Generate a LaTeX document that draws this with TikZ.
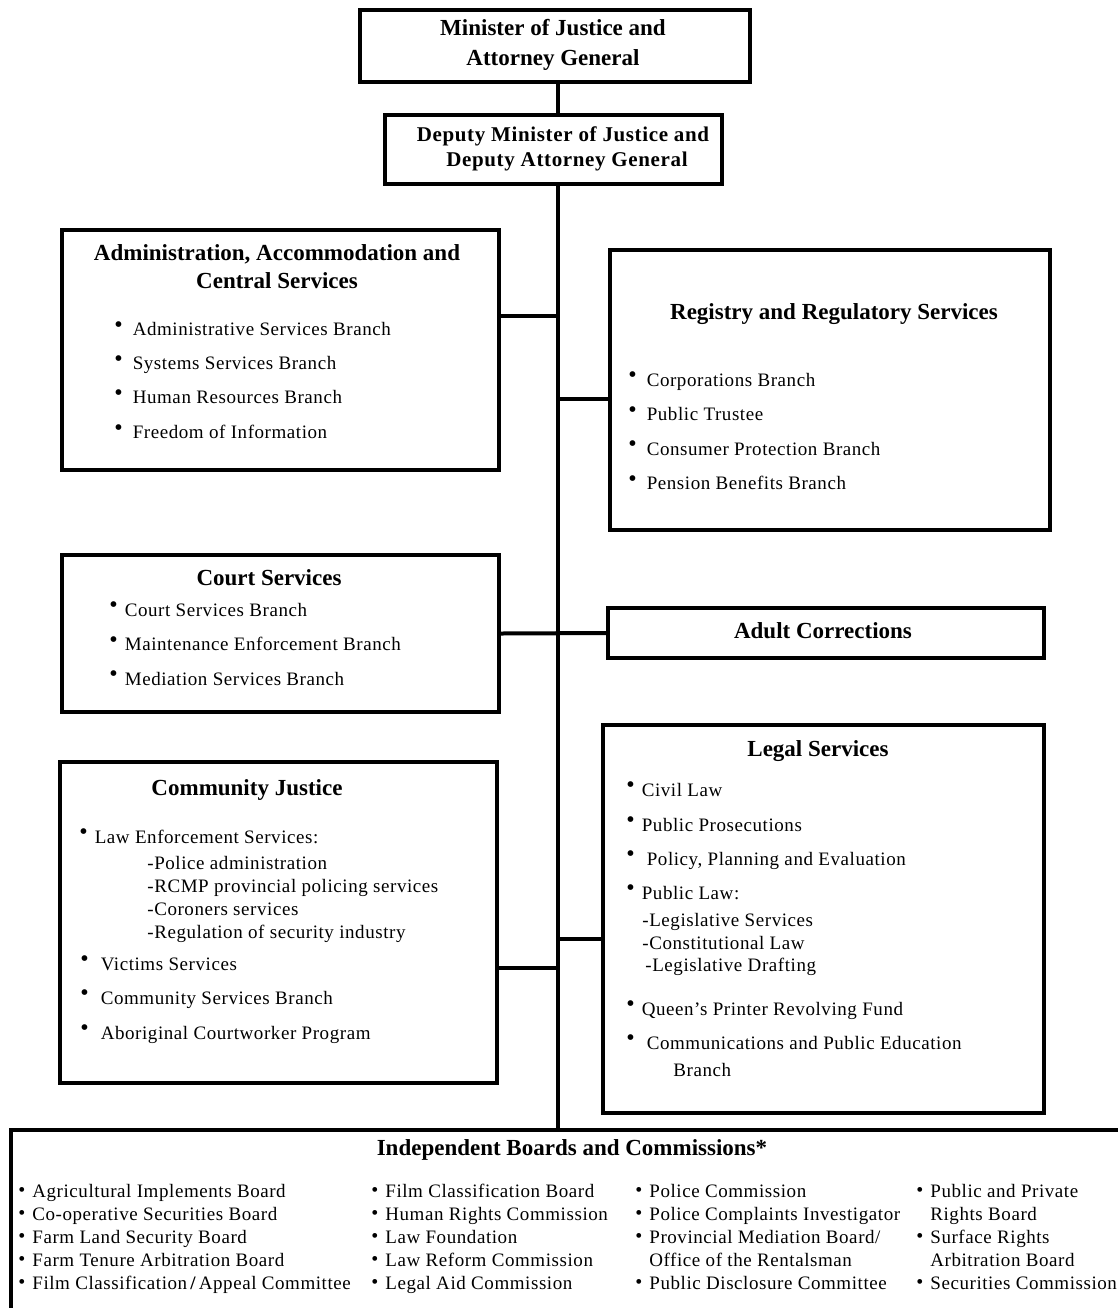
\documentclass[tikz,border=0pt]{standalone}
\usepackage{fontspec}
\setmainfont{Liberation Serif}
\newfontfamily\bodyfont[LetterSpace=3]{Liberation Serif}
\usetikzlibrary{positioning,calc}

% bullets for the lists
\newcommand{\bul}[1][5pt]{\raisebox{.35ex}{\large\textbullet}\hspace{#1}}
\newcommand{\sbul}{\raisebox{.05ex}{\normalsize\textbullet}\hspace{3.5pt}}
\newcommand{\nob}{\phantom{\sbul}}

\begin{document}
\begin{tikzpicture}[x=0.5pt, y=-0.5pt,
    unit/.style={draw, line width=2pt, anchor=north west, inner sep=0pt},
    head/.style={font=\fontsize{11.5}{14}\selectfont\bfseries, align=center, inner sep=0pt},
    item/.style={font=\bodyfont\fontsize{9.5}{11}\selectfont, anchor=base west, inner sep=0pt},
    link/.style={line width=2pt},
]
\useasboundingbox (0,0) rectangle (1118,1308);

% Boxes
\node[unit, minimum width=195pt, minimum height=36pt] (min) at (358,8) {};
\node[unit, minimum width=168.5pt, minimum height=34.5pt] (dep) at (383,113) {};
\node[unit, minimum width=218.5pt, minimum height=120pt] (adm) at (60,228) {};
\node[unit, minimum width=220pt, minimum height=140pt] (reg) at (608,248) {};
\node[unit, minimum width=218.5pt, minimum height=78.5pt] (crt) at (60,553) {};
\node[unit, minimum width=218pt, minimum height=25pt] (adc) at (606,606) {};
\node[unit, minimum width=220.5pt, minimum height=194pt] (leg) at (601,723) {};
\node[unit, minimum width=218.5pt, minimum height=160.5pt] (com) at (58,760) {};
\node[unit, minimum width=560pt, minimum height=100pt] (ibc) at (9,1128) {};

% Headings
\node[head, font=\fontsize{11.5}{15}\selectfont\bfseries] (min-t) at (553,45) {Minister of Justice and\\Attorney General};
\node[head, font=\bodyfont\fontsize{10.5}{12.5}\selectfont\bfseries] (dep-t) at (563,149) {Deputy Minister of Justice and\\\hspace{4pt}Deputy Attorney General};
\node[head] (adm-t) at (277,267) {Administration, Accommodation and\\Central Services};
\node[head] (reg-t) at (834,314) {Registry and Regulatory Services};
\node[head] (crt-t) at (269,578) {Court Services};
\node[head] (adc-t) at (823,631) {Adult Corrections};
\node[head] (leg-t) at (818,751) {Legal Services};
\node[head] (com-t) at (247,790) {Community Justice};
\node[head] (ibc-t) at (572,1150) {Independent Boards and Commissions*};

% Administration list
\foreach \t [count=\i] in {Administrative Services Branch, Systems Services Branch,
    Human Resources Branch, Freedom of Information}
    \node[item] (adm-\i) at (114,301+34.3*\i) {\bul\t};

% Registry list
\foreach \t [count=\i] in {Corporations Branch, Public Trustee,
    Consumer Protection Branch, Pension Benefits Branch}
    \node[item] (reg-\i) at (628,351.5+34.5*\i) {\bul\t};

% Court list
\foreach \t [count=\i] in {Court Services Branch, Maintenance Enforcement Branch,
    Mediation Services Branch}
    \node[item] (crt-\i) at (109,581.5+34.5*\i) {\bul[3.5pt]\t};

% Community Justice list
\node[item] (com-1) at (79,843) {\bul[3.5pt]Law Enforcement Services:};
\foreach \t [count=\i] in {-Police administration, -RCMP provincial policing services,
    -Coroners services, -Regulation of security industry}
    \node[item] (com-s\i) at (147,845.7+23.3*\i) {\t};
\node[item] (com-2) at (80,970) {\bul[6pt]Victims Services};
\node[item] (com-3) at (80,1004) {\bul[6pt]Community Services Branch};
\node[item] (com-4) at (80,1039) {\bul[6pt]Aboriginal Courtworker Program};

% Legal list
\node[item] (leg-1) at (626,796) {\bul[3.5pt]Civil Law};
\node[item] (leg-2) at (626,831) {\bul[3.5pt]Public Prosecutions};
\node[item] (leg-3) at (626,865) {\bul[6pt]Policy, Planning and Evaluation};
\node[item] (leg-4) at (626,899) {\bul[3.5pt]Public Law:};
\node[item] (leg-s1) at (642,926) {-Legislative Services};
\node[item] (leg-s2) at (642,949) {-Constitutional Law};
\node[item] (leg-s3) at (645,971) {-Legislative Drafting};
\node[item] (leg-5) at (626,1015) {\bul[3.5pt]Queen’s Printer Revolving Fund};
\node[item] (leg-6) at (626,1049) {\bul[6pt]Communications and Public Education};
\node[item] (leg-7) at (673,1076) {Branch};

% Boards and commissions, four columns
\foreach \m/\t [count=\i] in {\sbul/Agricultural Implements Board, \sbul/Co-operative Securities Board,
    \sbul/Farm Land Security Board, \sbul/Farm Tenure Arbitration Board,
    \sbul/Film Classification\,{\bfseries/}\,Appeal Committee}
    \node[item] (ibc-a\i) at (18,1174+23*\i) {\m\t};
\foreach \m/\t [count=\i] in {\sbul/Film Classification Board, \sbul/Human Rights Commission,
    \sbul/Law Foundation, \sbul/Law Reform Commission, \sbul/Legal Aid Commission}
    \node[item] (ibc-b\i) at (371,1174+23*\i) {\m\t};
\foreach \m/\t [count=\i] in {\sbul/Police Commission, \sbul/Police Complaints Investigator,
    \sbul/{Provincial Mediation Board/}, \nob/Office of the Rentalsman,
    \sbul/Public Disclosure Committee}
    \node[item] (ibc-c\i) at (635,1174+23*\i) {\m\t};
\foreach \m/\t [count=\i] in {\sbul/Public and Private, \nob/Rights Board,
    \sbul/Surface Rights, \nob/Arbitration Board, \sbul/Securities Commission}
    \node[item] (ibc-d\i) at (916,1174+23*\i) {\m\t};

% Connectors
\coordinate (tr) at (558,0);
\coordinate (adm-c) at ($(adm.north east)!.36!(adm.south east)$);
\coordinate (reg-c) at ($(reg.north west)!.53!(reg.south west)$);
\coordinate (leg-c) at ($(leg.north west)!.55!(leg.south west)$);
\coordinate (com-c) at ($(com.north east)!.64!(com.south east)$);
\draw[link] (min.south -| tr) -- (dep.north -| tr);
\draw[link] (dep.south -| tr) -- (ibc.north -| tr);
\draw[link] (adm-c) -- (adm-c -| tr);
\draw[link] (reg-c -| tr) -- (reg-c);
\draw[link] (crt.east) -- (adc.west);
\draw[link] (leg-c -| tr) -- (leg-c);
\draw[link] (com-c) -- (com-c -| tr);
\end{tikzpicture}
\end{document}
